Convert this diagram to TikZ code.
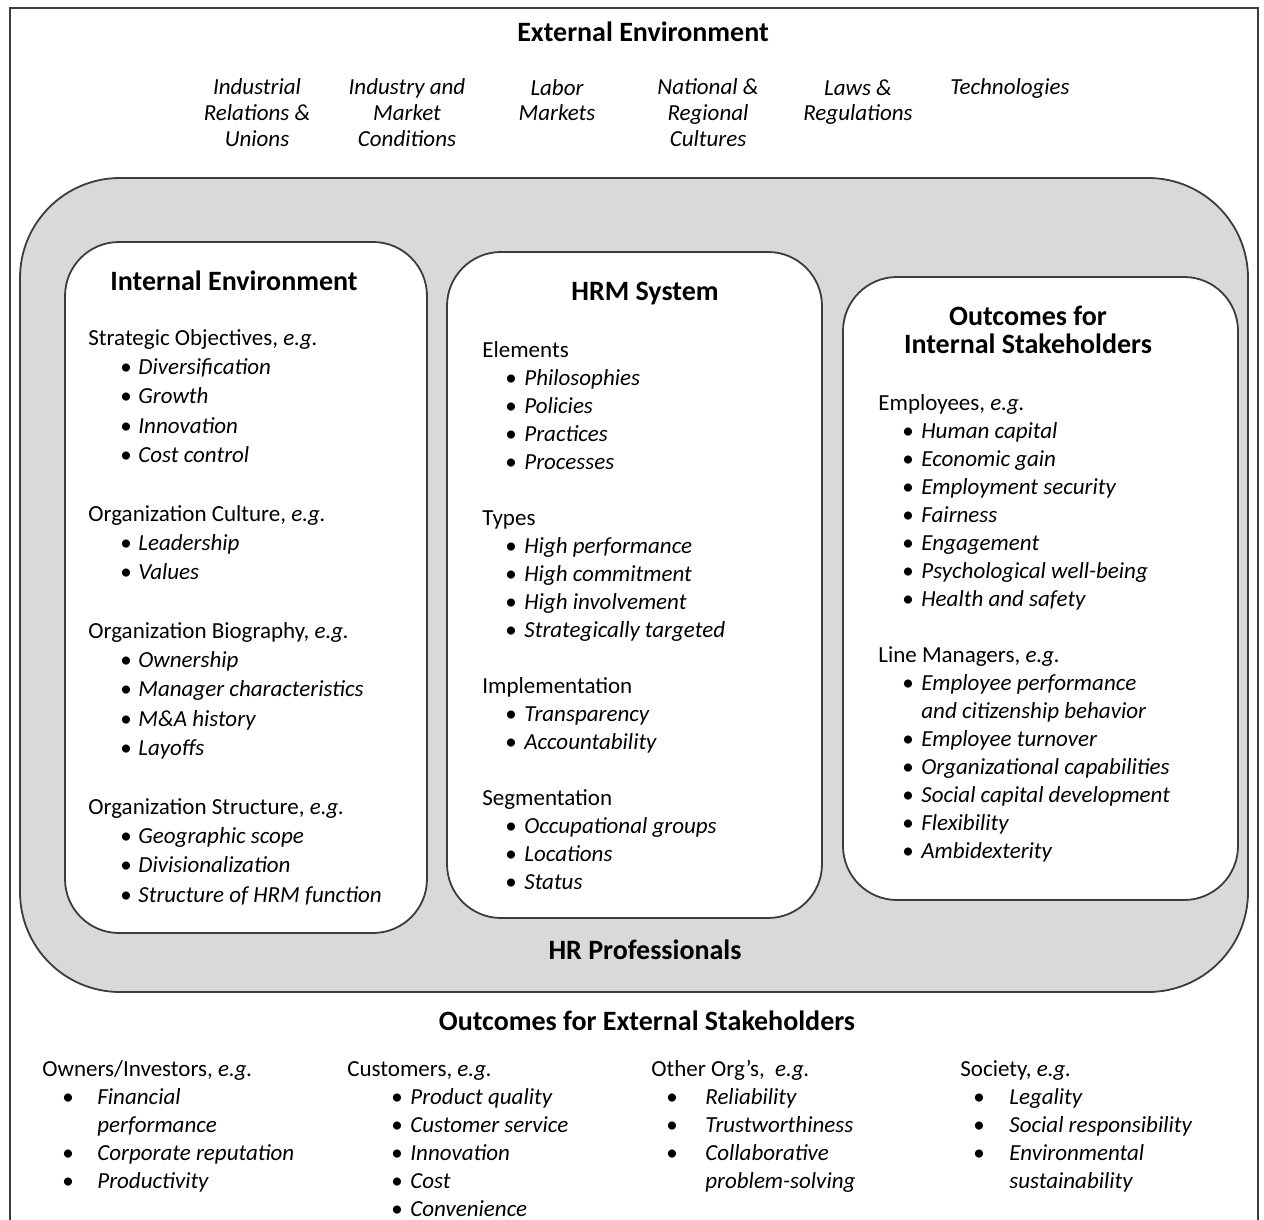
\documentclass[tikz,border=0pt]{standalone}
\usepackage{fontspec}
\setmainfont{Carlito}
\usetikzlibrary{positioning}
\definecolor{hrmGray}{RGB}{217,217,217}
\definecolor{hrmLine}{RGB}{60,60,60}
\newlength{\bulind}
\newlength{\bulgap}
\newcommand{\itm}[1]{\hspace*{\bulind}\makebox[\bulgap][l]{\textbullet}\textit{#1}}
\newcommand{\cnt}[1]{\hspace*{\bulind}\hspace*{\bulgap}\textit{#1}}
\newcommand{\eg}{\textit{e.g.}}

\begin{document}
\begin{tikzpicture}[
  x=0.5pt, y=-0.5pt,
  frame/.style={draw=hrmLine, line width=0.7pt},
  ring/.style={draw=hrmLine, line width=0.9pt, fill=hrmGray, rounded corners=50pt},
  panel/.style={draw=hrmLine, line width=0.9pt, fill=white, rounded corners=27pt},
  title/.style={font=\fontsize{14}{14}\selectfont\bfseries, align=center, anchor=base, inner sep=0pt},
  factor/.style={font=\fontsize{11.5}{13}\selectfont\itshape, align=center, anchor=base, inner sep=0pt},
  list/.style={font=\fontsize{11.5}{14}\selectfont, align=left, anchor=base west, inner sep=0pt},
  bullets/.style 2 args={execute at begin node={\setlength{\bulind}{#1}\setlength{\bulgap}{#2}}}
]
  \useasboundingbox (0,0) rectangle (1264,1220);
  \draw[frame] (10,1240) |- (1258,8) -- (1258,1240);

  % external environment (multi-line nodes sit on their last baseline)
  \node[title] (extTitle) at (643,42) {External Environment};
  \node[factor] (unions) at (257,147) {Industrial\\Relations \&\\Unions};
  \node[factor] (market) at (407,147) {Industry and\\Market\\Conditions};
  \node[factor] (labor) at (557,121) {Labor\\Markets};
  \node[factor] (cultures) at (708,147) {National \&\\Regional\\Cultures};
  \node[factor] (laws) at (858,121) {Laws \&\\Regulations};
  \node[factor] (tech) at (1010,95) {Technologies};

  % HR professionals ring and the three panels
  \draw[ring] (20,178) rectangle (1248,992);
  \draw[panel] (65,242) rectangle (427,933);
  \draw[panel] (447,252) rectangle (822,918);
  \draw[panel] (843,277) rectangle (1238,900);
  \node[title] (hrpTitle) at (645,959) {HR Professionals};

  \node[title] (intTitle) at (234,290) {Internal Environment};
  \node[list, bullets={16pt}{9pt}, font=\fontsize{11.5}{14.65}\selectfont] (intList) at (88,902) {%
    Strategic Objectives, \eg\\
    \itm{Diversification}\\
    \itm{Growth}\\
    \itm{Innovation}\\
    \itm{Cost control}\\[14.65pt]
    Organization Culture, \eg\\
    \itm{Leadership}\\
    \itm{Values}\\[14.65pt]
    Organization Biography, \eg\\
    \itm{Ownership}\\
    \itm{Manager characteristics}\\
    \itm{M\&A history}\\
    \itm{Layoffs}\\[14.65pt]
    Organization Structure, \eg\\
    \itm{Geographic scope}\\
    \itm{Divisionalization}\\
    \itm{Structure of HRM function}};

  \node[title] (hrmTitle) at (645,300) {HRM System};
  \node[list, bullets={11.5pt}{9.5pt}] (hrmList) at (482,889) {%
    Elements\\
    \itm{Philosophies}\\
    \itm{Policies}\\
    \itm{Practices}\\
    \itm{Processes}\\[14pt]
    Types\\
    \itm{High performance}\\
    \itm{High commitment}\\
    \itm{High involvement}\\
    \itm{Strategically targeted}\\[14pt]
    Implementation\\
    \itm{Transparency}\\
    \itm{Accountability}\\[14pt]
    Segmentation\\
    \itm{Occupational groups}\\
    \itm{Locations}\\
    \itm{Status}};

  \node[title] (outTitle) at (1028,353) {Outcomes for\\Internal Stakeholders};
  \node[list, bullets={12pt}{9.5pt}] (outList) at (878,858) {%
    Employees, \eg\\
    \itm{Human capital}\\
    \itm{Economic gain}\\
    \itm{Employment security}\\
    \itm{Fairness}\\
    \itm{Engagement}\\
    \itm{Psychological well-being}\\
    \itm{Health and safety}\\[14pt]
    Line Managers, \eg\\
    \itm{Employee performance}\\
    \cnt{and citizenship behavior}\\
    \itm{Employee turnover}\\
    \itm{Organizational capabilities}\\
    \itm{Social capital development}\\
    \itm{Flexibility}\\
    \itm{Ambidexterity}};

  % external stakeholders
  \node[title] (extOutTitle) at (647,1030) {Outcomes for External Stakeholders};
  \node[list, bullets={10pt}{17.5pt}] (owners) at (42,1188) {%
    Owners/Investors, \eg\\
    \itm{Financial}\\
    \cnt{performance}\\
    \itm{Corporate reputation}\\
    \itm{Productivity}};
  \node[list, bullets={22pt}{9.5pt}] (customers) at (347,1216) {%
    Customers, \eg\\
    \itm{Product quality}\\
    \itm{Customer service}\\
    \itm{Innovation}\\
    \itm{Cost}\\
    \itm{Convenience}};
  \node[list, bullets={7.5pt}{19.5pt}] (otherOrgs) at (651,1188) {%
    Other Org’s,~ \eg\\
    \itm{Reliability}\\
    \itm{Trustworthiness}\\
    \itm{Collaborative}\\
    \cnt{problem-solving}};
  \node[list, bullets={6.5pt}{18pt}] (society) at (960,1188) {%
    Society, \eg\\
    \itm{Legality}\\
    \itm{Social responsibility}\\
    \itm{Environmental}\\
    \cnt{sustainability}};
\end{tikzpicture}
\end{document}
